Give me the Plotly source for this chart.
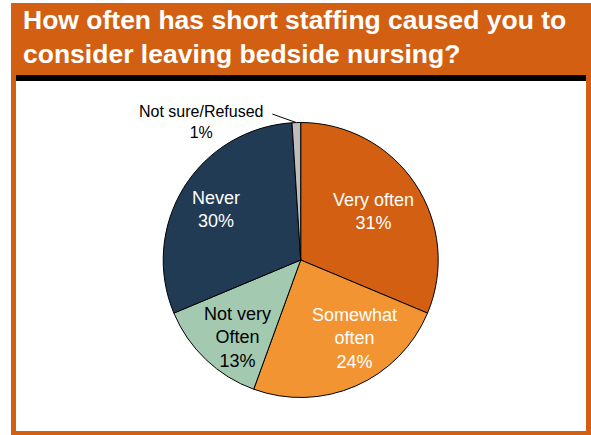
import math
import plotly.graph_objects as go

# Survey answers (percent of respondents), clockwise from 12 o'clock
categories = ["Very often", "Somewhat often", "Not very Often", "Never", "Not sure/Refused"]
display_labels = ["Very often", "Somewhat<br>often", "Not very<br>Often", "Never", "Not sure/Refused"]
values = [31, 24, 13, 30, 1]

slice_colors = ["#D35F12", "#F39433", "#A3C9B1", "#213B54", "#BDBDBD"]
label_colors = ["white", "white", "black", "white", "black"]
# in-slice label placement: (fraction of radius, angular nudge in degrees); None = outside label
label_place = [(0.635, 0.0), (0.69, -11.0), (0.73, -4.5), (0.715, -1.0), None]

W, H = 591, 435
ORANGE = "#D35F12"
FONT = "Liberation Sans, Arial"


def px(x):
    return x / W


def py(y):
    return 1 - y / H


# pie geometry in pixels
cx, cy, r = 300.7, 260.0, 137.5
dom_x = [px(cx - r), px(cx + r)]
dom_y = [py(cy + r), py(cy - r)]

fig = go.Figure(
    go.Pie(
        labels=categories,
        values=values,
        sort=False,
        direction="clockwise",
        rotation=0,
        marker=dict(colors=slice_colors, line=dict(color="black", width=1)),
        textinfo="none",
        hoverinfo="skip",
        showlegend=False,
        domain=dict(x=dom_x, y=dom_y),
    )
)

shapes = [
    # outer orange frame
    dict(type="rect", xref="paper", yref="paper", x0=px(11), x1=px(591), y0=py(435), y1=py(3),
         fillcolor=ORANGE, line=dict(width=0), layer="below"),
    # white panel
    dict(type="rect", xref="paper", yref="paper", x0=px(16), x1=px(586), y0=py(431), y1=py(81),
         fillcolor="white", line=dict(width=0), layer="below"),
    # black rule under the title
    dict(type="rect", xref="paper", yref="paper", x0=px(16), x1=px(586), y0=py(81), y1=py(75),
         fillcolor="black", line=dict(width=0), layer="below"),
]

annotations = [
    dict(text="<b>How often has short staffing caused you to<br>consider leaving bedside nursing?</b>",
         xref="paper", yref="paper", x=px(21), y=py(37), xanchor="left", yanchor="middle",
         align="left", showarrow=False,
         font=dict(family=FONT, size=26.5, color="white")),
]

total = sum(values)
start = 0.0
for lab, v, col, place in zip(display_labels, values, label_colors, label_place):
    mid = (start + v / 2) / total * 2 * math.pi
    start += v
    if place is not None:
        rf, nudge = place
        ang = mid + math.radians(nudge)
        lx = cx + math.sin(ang) * r * rf
        ly = cy - math.cos(ang) * r * rf
        annotations.append(dict(
            text=f"{lab}<br>{v}%", xref="paper", yref="paper", x=px(lx), y=py(ly),
            xanchor="center", yanchor="middle", showarrow=False,
            font=dict(family=FONT, size=18, color=col)))
    else:
        # small slice: label outside with a leader line
        ex = cx + math.sin(mid) * r
        ey = cy - math.cos(mid) * r
        lx0, ly0 = ex - 24, ey - 8.5
        shapes.append(dict(type="line", xref="paper", yref="paper",
                           x0=px(lx0), y0=py(ly0), x1=px(ex), y1=py(ey),
                           line=dict(color="black", width=1)))
        annotations.append(dict(
            text=f"{lab}<br>{v}%", xref="paper", yref="paper", x=px(lx0 - 70.5), y=py(ly0 + 7.6),
            xanchor="center", yanchor="middle", showarrow=False,
            font=dict(family=FONT, size=16, color="black")))

fig.update_layout(
    width=W, height=H,
    margin=dict(l=0, r=0, t=0, b=0),
    paper_bgcolor="white",
    plot_bgcolor="white",
    shapes=shapes,
    annotations=annotations,
)

fig.write_html("out.html")
